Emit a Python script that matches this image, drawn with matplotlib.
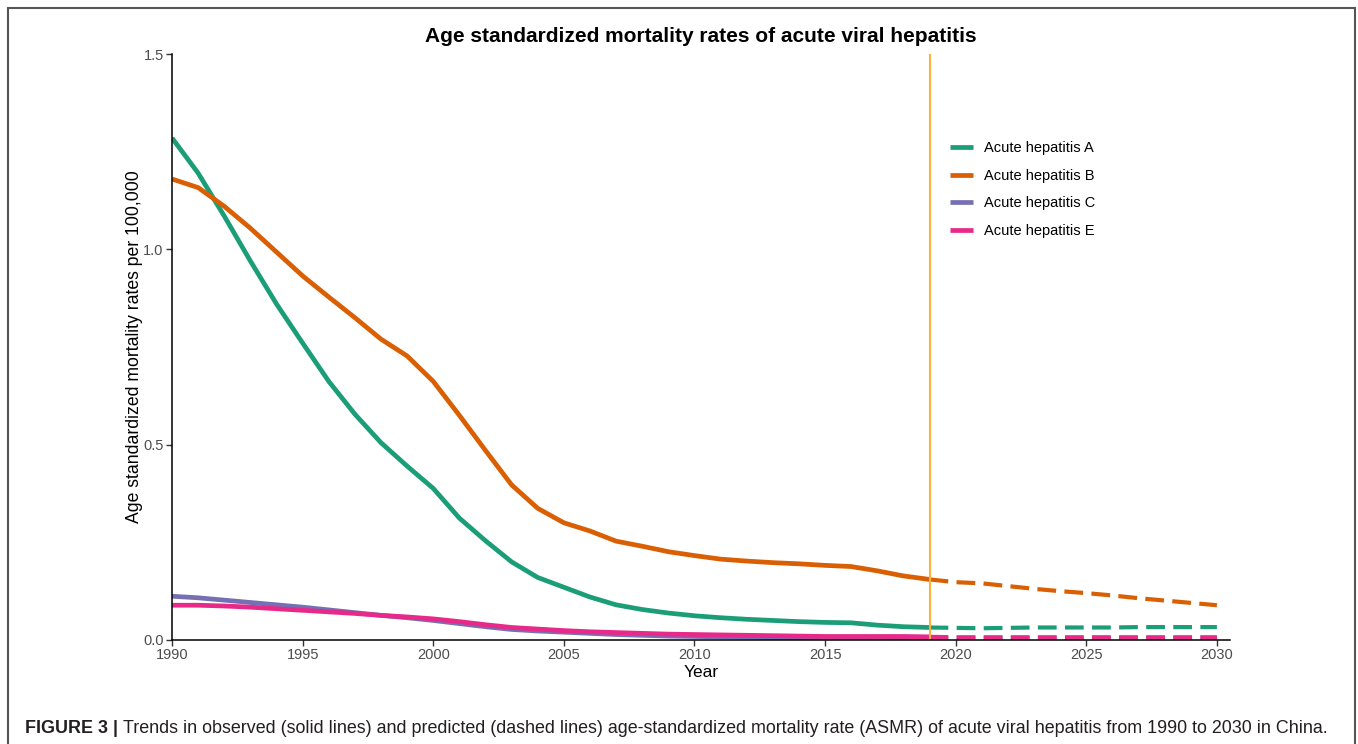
import matplotlib
matplotlib.use("Agg")
import matplotlib.pyplot as plt
from matplotlib.patches import Rectangle
import numpy as np

plt.rcParams['font.family'] = ['Liberation Sans', 'DejaVu Sans']

# observed 1990-2019
years_obs = list(range(1990, 2020))
hep_a = [1.285, 1.195, 1.085, 0.970, 0.860, 0.760, 0.662, 0.578, 0.505, 0.445,
         0.388, 0.312, 0.254, 0.200, 0.160, 0.135, 0.110, 0.090, 0.078, 0.069,
         0.062, 0.057, 0.053, 0.050, 0.047, 0.045, 0.044, 0.038, 0.034, 0.032]
hep_b = [1.180, 1.158, 1.110, 1.054, 0.993, 0.932, 0.878, 0.825, 0.770, 0.727,
         0.662, 0.575, 0.485, 0.397, 0.337, 0.300, 0.279, 0.253, 0.240, 0.226,
         0.216, 0.207, 0.202, 0.198, 0.195, 0.191, 0.188, 0.177, 0.164, 0.155]
hep_c = [0.112, 0.108, 0.102, 0.096, 0.090, 0.084, 0.077, 0.070, 0.063, 0.057,
         0.050, 0.042, 0.034, 0.027, 0.023, 0.020, 0.017, 0.014, 0.012, 0.010,
         0.009, 0.008, 0.007, 0.006, 0.006, 0.005, 0.005, 0.005, 0.004, 0.004]
hep_e = [0.089, 0.089, 0.087, 0.084, 0.080, 0.076, 0.072, 0.068, 0.063, 0.059,
         0.054, 0.047, 0.039, 0.032, 0.028, 0.024, 0.021, 0.019, 0.017, 0.015,
         0.014, 0.013, 0.012, 0.011, 0.010, 0.009, 0.009, 0.009, 0.009, 0.008]

# predicted 2019-2030
years_pred = list(range(2019, 2031))
pred_a = [0.032, 0.031, 0.030, 0.031, 0.032, 0.032, 0.032, 0.032, 0.033, 0.033, 0.033, 0.033]
pred_b = [0.155, 0.148, 0.145, 0.138, 0.131, 0.125, 0.120, 0.114, 0.107, 0.101, 0.095, 0.089]
pred_c = [0.004, 0.005, 0.005, 0.005, 0.005, 0.005, 0.005, 0.005, 0.005, 0.005, 0.005, 0.005]
pred_e = [0.008, 0.007, 0.007, 0.007, 0.007, 0.007, 0.007, 0.007, 0.007, 0.007, 0.007, 0.007]

labels = ['Acute hepatitis A', 'Acute hepatitis B', 'Acute hepatitis C', 'Acute hepatitis E']
colors = ['#1B9E77', '#D95F02', '#7570B3', '#E7298A']
obs = [hep_a, hep_b, hep_c, hep_e]
pred = [pred_a, pred_b, pred_c, pred_e]

fig = plt.figure(figsize=(13.58, 7.44), dpi=100)
ax = fig.add_axes([0.1267, 0.1398, 0.7790, 0.7876])

handles = []
for lab, col, o, p in zip(labels, colors, obs, pred):
    h, = ax.plot(years_obs, o, color=col, lw=3.4, label=lab, solid_capstyle='butt')
    ax.plot(years_pred, p, color=col, lw=3.0, dashes=(4.5, 2.0))
    handles.append(h)

ax.axvline(2019, color='#FDB03A', lw=1.5)

ax.set_xlim(1990, 2030.5)
ax.set_ylim(0, 1.5)
ax.set_xticks(np.arange(1990, 2031, 5))
ax.set_yticks([0, 0.5, 1.0, 1.5])
ax.set_yticklabels(['0.0', '0.5', '1.0', '1.5'])

for s in ['top', 'right']:
    ax.spines[s].set_visible(False)
for s in ['left', 'bottom']:
    ax.spines[s].set_color('black')
    ax.spines[s].set_linewidth(1.1)
ax.tick_params(axis='both', direction='out', length=4, width=1, color='#333333',
               labelcolor='#4D4D4D', labelsize=10.5, pad=2)

ax.set_xlabel('Year', fontsize=12.5, labelpad=2)
ax.set_ylabel('Age standardized mortality rates per 100,000', fontsize=12.7, labelpad=0)
ax.set_title('Age standardized mortality rates of acute viral hepatitis',
             fontsize=15, fontweight='bold', pad=9)

leg = fig.legend(handles=handles, loc='upper left', bbox_to_anchor=(0.6996, 0.810),
                 frameon=False, fontsize=10.5, handlelength=1.6, handletextpad=0.75,
                 labelspacing=0.93, borderpad=0, borderaxespad=0)

# frame around the figure panel
fig.patches.append(Rectangle((0.0059, -0.05), 0.9919, 1.0391, transform=fig.transFigure,
                             fill=False, edgecolor='#555555', lw=1.5))

# caption
t1 = fig.text(0.0184, 0.0147, 'FIGURE 3 | ', fontsize=12.85, fontweight='bold', color='#231F20',
              ha='left', va='baseline')
fig.canvas.draw()
bb = t1.get_window_extent(fig.canvas.get_renderer())
x2 = bb.x1 / fig.bbox.width
fig.text(x2, 0.0147, 'Trends in observed (solid lines) and predicted (dashed lines) '
         'age-standardized mortality rate (ASMR) of acute viral hepatitis from 1990 to 2030 in China.',
         fontsize=12.85, color='#231F20', ha='left', va='baseline')

plt.savefig('out.png', dpi=100)
